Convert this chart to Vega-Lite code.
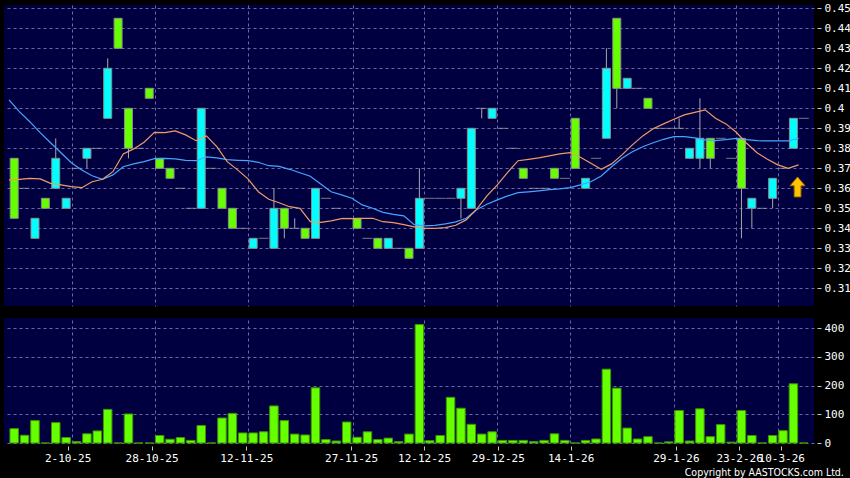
{
  "$schema": "https://vega.github.io/schema/vega-lite/v6.json",
  "background": "#000000",
  "padding": {"left": 4, "top": 2, "right": 0, "bottom": 0},
  "datasets": {
    "candles": [
      {"i":0,"o":0.375,"h":0.375,"l":0.345,"c":0.345,"v":50},
      {"i":1,"o":0.36,"h":0.36,"l":0.36,"c":0.36,"v":27},
      {"i":2,"o":0.335,"h":0.345,"l":0.335,"c":0.345,"v":78},
      {"i":3,"o":0.355,"h":0.355,"l":0.35,"c":0.35,"v":0},
      {"i":4,"o":0.36,"h":0.385,"l":0.36,"c":0.375,"v":71},
      {"i":5,"o":0.35,"h":0.355,"l":0.35,"c":0.355,"v":19},
      {"i":6,"o":0.37,"h":0.37,"l":0.37,"c":0.37,"v":5},
      {"i":7,"o":0.375,"h":0.38,"l":0.37,"c":0.38,"v":32},
      {"i":8,"o":0.38,"h":0.38,"l":0.38,"c":0.38,"v":42},
      {"i":9,"o":0.395,"h":0.425,"l":0.395,"c":0.42,"v":117},
      {"i":10,"o":0.445,"h":0.445,"l":0.43,"c":0.43,"v":0},
      {"i":11,"o":0.4,"h":0.4,"l":0.375,"c":0.38,"v":101},
      {"i":12,"o":0.38,"h":0.38,"l":0.38,"c":0.38,"v":0},
      {"i":13,"o":0.41,"h":0.41,"l":0.405,"c":0.405,"v":0},
      {"i":14,"o":0.375,"h":0.375,"l":0.37,"c":0.37,"v":26},
      {"i":15,"o":0.37,"h":0.37,"l":0.365,"c":0.365,"v":13},
      {"i":16,"o":0.36,"h":0.36,"l":0.36,"c":0.36,"v":19},
      {"i":17,"o":0.35,"h":0.35,"l":0.35,"c":0.35,"v":9},
      {"i":18,"o":0.35,"h":0.4,"l":0.35,"c":0.4,"v":61},
      {"i":19,"o":0.37,"h":0.37,"l":0.37,"c":0.37,"v":0},
      {"i":20,"o":0.36,"h":0.36,"l":0.35,"c":0.35,"v":87},
      {"i":21,"o":0.35,"h":0.35,"l":0.34,"c":0.34,"v":103},
      {"i":22,"o":0.34,"h":0.34,"l":0.34,"c":0.34,"v":35},
      {"i":23,"o":0.33,"h":0.335,"l":0.33,"c":0.335,"v":35},
      {"i":24,"o":0.335,"h":0.335,"l":0.335,"c":0.335,"v":39},
      {"i":25,"o":0.33,"h":0.36,"l":0.33,"c":0.35,"v":129},
      {"i":26,"o":0.35,"h":0.35,"l":0.335,"c":0.34,"v":78},
      {"i":27,"o":0.34,"h":0.345,"l":0.34,"c":0.34,"v":31},
      {"i":28,"o":0.34,"h":0.34,"l":0.335,"c":0.335,"v":28},
      {"i":29,"o":0.335,"h":0.36,"l":0.335,"c":0.36,"v":192},
      {"i":30,"o":0.355,"h":0.355,"l":0.355,"c":0.355,"v":12},
      {"i":31,"o":0.35,"h":0.35,"l":0.35,"c":0.35,"v":7},
      {"i":32,"o":0.345,"h":0.345,"l":0.345,"c":0.345,"v":73},
      {"i":33,"o":0.345,"h":0.345,"l":0.34,"c":0.34,"v":20},
      {"i":34,"o":0.335,"h":0.335,"l":0.335,"c":0.335,"v":39},
      {"i":35,"o":0.335,"h":0.335,"l":0.33,"c":0.33,"v":12},
      {"i":36,"o":0.33,"h":0.335,"l":0.33,"c":0.335,"v":17},
      {"i":37,"o":0.33,"h":0.33,"l":0.33,"c":0.33,"v":5},
      {"i":38,"o":0.33,"h":0.33,"l":0.325,"c":0.325,"v":31},
      {"i":39,"o":0.33,"h":0.37,"l":0.33,"c":0.355,"v":412},
      {"i":40,"o":0.355,"h":0.355,"l":0.355,"c":0.355,"v":8},
      {"i":41,"o":0.355,"h":0.355,"l":0.355,"c":0.355,"v":26},
      {"i":42,"o":0.355,"h":0.355,"l":0.355,"c":0.355,"v":159},
      {"i":43,"o":0.355,"h":0.36,"l":0.345,"c":0.36,"v":121},
      {"i":44,"o":0.35,"h":0.39,"l":0.35,"c":0.39,"v":65},
      {"i":45,"o":0.4,"h":0.4,"l":0.395,"c":0.4,"v":31},
      {"i":46,"o":0.395,"h":0.4,"l":0.395,"c":0.4,"v":39},
      {"i":47,"o":0.39,"h":0.39,"l":0.39,"c":0.39,"v":9},
      {"i":48,"o":0.38,"h":0.38,"l":0.38,"c":0.38,"v":9},
      {"i":49,"o":0.37,"h":0.37,"l":0.365,"c":0.365,"v":9},
      {"i":50,"o":0.36,"h":0.36,"l":0.36,"c":0.36,"v":5},
      {"i":51,"o":0.36,"h":0.36,"l":0.36,"c":0.36,"v":9},
      {"i":52,"o":0.37,"h":0.37,"l":0.365,"c":0.365,"v":32},
      {"i":53,"o":0.365,"h":0.365,"l":0.365,"c":0.365,"v":9},
      {"i":54,"o":0.395,"h":0.395,"l":0.37,"c":0.37,"v":0},
      {"i":55,"o":0.36,"h":0.365,"l":0.36,"c":0.365,"v":9},
      {"i":56,"o":0.375,"h":0.375,"l":0.375,"c":0.375,"v":14},
      {"i":57,"o":0.385,"h":0.43,"l":0.385,"c":0.42,"v":257},
      {"i":58,"o":0.445,"h":0.445,"l":0.4,"c":0.41,"v":191},
      {"i":59,"o":0.41,"h":0.415,"l":0.41,"c":0.415,"v":52},
      {"i":60,"o":0.41,"h":0.41,"l":0.41,"c":0.41,"v":14},
      {"i":61,"o":0.405,"h":0.405,"l":0.4,"c":0.4,"v":22},
      {"i":62,"o":0.39,"h":0.39,"l":0.39,"c":0.39,"v":0},
      {"i":63,"o":0.39,"h":0.39,"l":0.39,"c":0.39,"v":4},
      {"i":64,"o":0.39,"h":0.395,"l":0.39,"c":0.39,"v":113},
      {"i":65,"o":0.375,"h":0.38,"l":0.375,"c":0.38,"v":7},
      {"i":66,"o":0.375,"h":0.405,"l":0.37,"c":0.385,"v":119},
      {"i":67,"o":0.385,"h":0.385,"l":0.37,"c":0.375,"v":22},
      {"i":68,"o":0.385,"h":0.385,"l":0.385,"c":0.385,"v":64},
      {"i":69,"o":0.375,"h":0.375,"l":0.375,"c":0.375,"v":3},
      {"i":70,"o":0.385,"h":0.385,"l":0.335,"c":0.36,"v":113},
      {"i":71,"o":0.35,"h":0.355,"l":0.34,"c":0.355,"v":26},
      {"i":72,"o":0.35,"h":0.35,"l":0.35,"c":0.35,"v":0},
      {"i":73,"o":0.355,"h":0.365,"l":0.35,"c":0.365,"v":26},
      {"i":74,"o":0.37,"h":0.37,"l":0.37,"c":0.37,"v":43},
      {"i":75,"o":0.38,"h":0.395,"l":0.38,"c":0.395,"v":206},
      {"i":76,"o":0.395,"h":0.395,"l":0.395,"c":0.395,"v":0}
    ],
    "ma": [
      {"t":-0.5,"m10":0.3642,"m20":0.4042},
      {"t":0.5,"m10":0.3645,"m20":0.3983},
      {"t":1.5,"m10":0.365,"m20":0.3933},
      {"t":2.5,"m10":0.3647,"m20":0.3878},
      {"t":3.5,"m10":0.3625,"m20":0.3828},
      {"t":4.5,"m10":0.3617,"m20":0.3778},
      {"t":5.5,"m10":0.3608,"m20":0.3728},
      {"t":6.5,"m10":0.3603,"m20":0.3692},
      {"t":7.5,"m10":0.3633,"m20":0.3663},
      {"t":8.5,"m10":0.3645,"m20":0.3645},
      {"t":9.5,"m10":0.3683,"m20":0.3667},
      {"t":10.5,"m10":0.3772,"m20":0.3708},
      {"t":11.5,"m10":0.3797,"m20":0.3722},
      {"t":12.5,"m10":0.383,"m20":0.3733},
      {"t":13.5,"m10":0.388,"m20":0.3748},
      {"t":14.5,"m10":0.3878,"m20":0.375},
      {"t":15.5,"m10":0.3887,"m20":0.3747},
      {"t":16.5,"m10":0.3867,"m20":0.374},
      {"t":17.5,"m10":0.3838,"m20":0.3738},
      {"t":18.5,"m10":0.3862,"m20":0.3757},
      {"t":19.5,"m10":0.3808,"m20":0.3752},
      {"t":20.5,"m10":0.3733,"m20":0.3743},
      {"t":21.5,"m10":0.3692,"m20":0.374},
      {"t":22.5,"m10":0.3647,"m20":0.3738},
      {"t":23.5,"m10":0.3583,"m20":0.373},
      {"t":24.5,"m10":0.3545,"m20":0.3713},
      {"t":25.5,"m10":0.3528,"m20":0.371},
      {"t":26.5,"m10":0.3508,"m20":0.3695},
      {"t":27.5,"m10":0.35,"m20":0.3678},
      {"t":28.5,"m10":0.3433,"m20":0.366},
      {"t":29.5,"m10":0.343,"m20":0.3622},
      {"t":30.5,"m10":0.3437,"m20":0.3583},
      {"t":31.5,"m10":0.3448,"m20":0.3567},
      {"t":32.5,"m10":0.3448,"m20":0.355},
      {"t":33.5,"m10":0.345,"m20":0.3517},
      {"t":34.5,"m10":0.345,"m20":0.35},
      {"t":35.5,"m10":0.3433,"m20":0.348},
      {"t":36.5,"m10":0.3428,"m20":0.347},
      {"t":37.5,"m10":0.3418,"m20":0.3462},
      {"t":38.5,"m10":0.3407,"m20":0.3418},
      {"t":39.5,"m10":0.34,"m20":0.3412},
      {"t":40.5,"m10":0.34,"m20":0.3415},
      {"t":41.5,"m10":0.3403,"m20":0.3422},
      {"t":42.5,"m10":0.3415,"m20":0.3432},
      {"t":43.5,"m10":0.3442,"m20":0.345},
      {"t":44.5,"m10":0.3495,"m20":0.3493},
      {"t":45.5,"m10":0.3562,"m20":0.352},
      {"t":46.5,"m10":0.3617,"m20":0.3542},
      {"t":47.5,"m10":0.368,"m20":0.3562},
      {"t":48.5,"m10":0.3738,"m20":0.3578},
      {"t":49.5,"m10":0.3745,"m20":0.3582},
      {"t":50.5,"m10":0.3752,"m20":0.3587},
      {"t":51.5,"m10":0.3762,"m20":0.3593},
      {"t":52.5,"m10":0.3772,"m20":0.3597},
      {"t":53.5,"m10":0.3778,"m20":0.3603},
      {"t":54.5,"m10":0.3755,"m20":0.3617},
      {"t":55.5,"m10":0.3725,"m20":0.3633},
      {"t":56.5,"m10":0.3695,"m20":0.3662},
      {"t":57.5,"m10":0.3722,"m20":0.3708},
      {"t":58.5,"m10":0.3767,"m20":0.375},
      {"t":59.5,"m10":0.3817,"m20":0.3783},
      {"t":60.5,"m10":0.3862,"m20":0.3808},
      {"t":61.5,"m10":0.3898,"m20":0.3828},
      {"t":62.5,"m10":0.3922,"m20":0.3845},
      {"t":63.5,"m10":0.3945,"m20":0.3858},
      {"t":64.5,"m10":0.3967,"m20":0.3858},
      {"t":65.5,"m10":0.398,"m20":0.3852},
      {"t":66.5,"m10":0.3992,"m20":0.3842},
      {"t":67.5,"m10":0.395,"m20":0.3838},
      {"t":68.5,"m10":0.3922,"m20":0.3843},
      {"t":69.5,"m10":0.388,"m20":0.385},
      {"t":70.5,"m10":0.3825,"m20":0.3843},
      {"t":71.5,"m10":0.3778,"m20":0.3838},
      {"t":72.5,"m10":0.3745,"m20":0.3837},
      {"t":73.5,"m10":0.3717,"m20":0.3837},
      {"t":74.5,"m10":0.37,"m20":0.3837},
      {"t":75.5,"m10":0.3717,"m20":0.385}
    ],
    "arrow": [{"i":75.4,"p":0.3607}]
  },
  "vconcat": [
    {
      "width": 810,
      "height": 301,
      "encoding": {
        "y": {"type": "quantitative", "title": null,
              "scale": {"domain": [0.30115, 0.45165], "nice": false, "zero": false},
              "axis": {"orient": "right", "grid": true, "format": ".2~f", "labelOverlap": false,
                       "values": [0.31,0.32,0.33,0.34,0.35,0.36,0.37,0.38,0.39,0.4,0.41,0.42,0.43,0.44,0.45],
                       "tickSize": 4, "offset": 3, "labelPadding": 3}}
      },
      "layer": [
        {
          "data": {"name": "candles"},
          "mark": {"type": "rule", "color": "#a8a8a8", "strokeWidth": 1},
          "encoding": {
            "x": {"field": "i", "type": "quantitative", "title": null,
                  "scale": {"domain": [-0.5, 76.5], "nice": false, "zero": false},
                  "axis": {"grid": true, "labels": false, "ticks": false, "domain": false,
                           "values": [5.58, 13.57, 22.5, 32.6, 39.42, 46.46, 53.49, 63.5, 69.46, 73.55]}},
            "y": {"field": "l"},
            "y2": {"field": "h"}
          }
        },
        {
          "data": {"name": "candles"},
          "transform": [{"filter": "datum.o != datum.c"}],
          "mark": {"type": "bar", "width": 8, "stroke": "#8c8c8c", "strokeWidth": 1},
          "encoding": {
            "x": {"field": "i", "type": "quantitative"},
            "y": {"field": "o"},
            "y2": {"field": "c"},
            "fill": {"condition": {"test": "datum.c > datum.o", "value": "#00ffff"}, "value": "#66ff00"}
          }
        },
        {
          "data": {"name": "candles"},
          "transform": [{"filter": "datum.o == datum.c"}],
          "mark": {"type": "tick", "orient": "horizontal", "size": 10, "thickness": 1, "color": "#a8a8a8"},
          "encoding": {
            "x": {"field": "i", "type": "quantitative"},
            "y": {"field": "o"}
          }
        },
        {
          "data": {"name": "ma"},
          "mark": {"type": "line", "color": "#45a5ff", "strokeWidth": 1.2, "clip": true},
          "encoding": {
            "x": {"field": "t", "type": "quantitative"},
            "y": {"field": "m20"}
          }
        },
        {
          "data": {"name": "ma"},
          "mark": {"type": "line", "color": "#f09a6a", "strokeWidth": 1.2, "clip": true},
          "encoding": {
            "x": {"field": "t", "type": "quantitative"},
            "y": {"field": "m10"}
          }
        },
        {
          "data": {"name": "arrow"},
          "mark": {"type": "point", "filled": true, "fill": "#ffc400", "stroke": "#b06a00", "strokeWidth": 1, "opacity": 1,
                   "shape": "M0,-1.33 L1,-0.15 L0.45,-0.15 L0.45,1.33 L-0.45,1.33 L-0.45,-0.15 L-1,-0.15 Z", "size": 225},
          "encoding": {
            "x": {"field": "i", "type": "quantitative"},
            "y": {"field": "p"}
          }
        }
      ]
    },
    {
      "width": 810,
      "height": 125,
      "title": {"text": "Copyright by AASTOCKS.com Ltd.", "orient": "bottom", "anchor": "end", "frame": "bounds",
                "font": "DejaVu Sans Condensed, DejaVu Sans", "fontSize": 10.5, "fontWeight": "normal",
                "color": "#ffffff", "offset": 5},
      "data": {"name": "candles"},
      "encoding": {
        "y": {"field": "v", "type": "quantitative", "title": null,
              "scale": {"domain": [0, 435], "nice": false},
              "axis": {"orient": "right", "grid": true, "values": [0, 100, 200, 300, 400], "labelOverlap": false,
                       "tickSize": 4, "offset": 3, "labelPadding": 3}}
      },
      "layer": [
        {
          "mark": {"type": "bar", "width": 8.5, "fill": "#66ff00", "stroke": "#3c9600", "strokeWidth": 1},
          "encoding": {
            "x": {"field": "i", "type": "quantitative", "title": null,
                  "scale": {"domain": [-0.5, 76.5], "nice": false, "zero": false},
                  "axis": {"orient": "bottom", "grid": false, "domain": false, "tickSize": 4, "offset": 3,
                           "labelPadding": 2, "labelOverlap": false, "labelBound": false, "labelFlush": false,
                           "values": [5.14, 13.22, 22.34, 32.42, 39.45, 46.55, 53.56, 63.69, 69.77, 73.83],
                           "labelExpr": "['2-10-25','28-10-25','12-11-25','27-11-25','12-12-25','29-12-25','14-1-26','29-1-26','23-2-26','10-3-26'][indexof([5.14, 13.22, 22.34, 32.42, 39.45, 46.55, 53.56, 63.69, 69.77, 73.83], datum.value)]"}}
          }
        },
        {
          "mark": {"type": "bar", "width": 8.5, "opacity": 0},
          "encoding": {
            "x": {"field": "i", "type": "quantitative", "title": null,
                  "axis": {"orient": "top", "grid": true, "labels": false, "ticks": false, "domain": false,
                           "values": [5.58, 13.57, 22.5, 32.6, 39.42, 46.46, 53.49, 63.5, 69.46, 73.55]}}
          }
        }
      ],
      "resolve": {"axis": {"x": "independent"}}
    }
  ],
  "spacing": 12,
  "config": {
    "view": {"fill": "#000040", "stroke": null},
    "axis": {
      "gridColor": "#6a6aa6", "gridDash": [3, 3], "gridWidth": 1, "gridOpacity": 1,
      "labelColor": "#ffffff", "labelFont": "DejaVu Sans Mono", "labelFontSize": 11, "labelOverlap": false,
      "tickColor": "#c8c8c8", "domain": false, "title": null
    }
  }
}
